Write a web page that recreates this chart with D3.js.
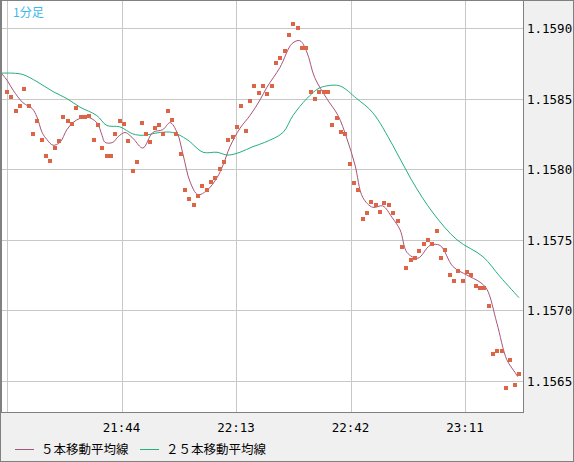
<!DOCTYPE html>
<html>
<head>
<meta charset="utf-8">
<script src="https://cdn.jsdelivr.net/npm/d3@7"></script>
<style>
  body { margin: 0; background: #fff; }
  svg { display: block; }
</style>
</head>
<body>
<svg id="chart" width="574" height="462"></svg>
<script>
// 1分足 closing prices, one per bar
const closes = [
  1.15855, 1.15851, 1.15841, 1.15845, 1.15857, 1.15845, 1.15825, 1.15834, 1.15821, 1.15809,
  1.15806, 1.15815, 1.15820, 1.15837, 1.15834, 1.15832, 1.15843, 1.15837, 1.15837, 1.15838,
  1.15821, 1.15831, 1.15815, 1.15809, 1.15809, 1.15825, 1.15834, 1.15832, 1.15820, 1.15799,
  1.15805, 1.15833, 1.15825, 1.15819, 1.15829, 1.15831, 1.15825, 1.15841, 1.15835, 1.15825,
  1.15811, 1.15785, 1.15779, 1.15775, 1.15781, 1.15788, 1.15785, 1.15791, 1.15794, 1.15800,
  1.15805, 1.15821, 1.15823, 1.15830, 1.15845, 1.15827, 1.15848, 1.15859, 1.15854, 1.15859,
  1.15853, 1.15859, 1.15875, 1.15879, 1.15884, 1.15895, 1.15903, 1.15900, 1.15886, 1.15886,
  1.15855, 1.15850, 1.15855, 1.15855, 1.15855, 1.15831, 1.15836, 1.15826, 1.15825, 1.15804,
  1.15790, 1.15785, 1.15765, 1.15769, 1.15777, 1.15775, 1.15770, 1.15776, 1.15775, 1.15769,
  1.15763, 1.15745, 1.15730, 1.15736, 1.15737, 1.15742, 1.15747, 1.15750, 1.15747, 1.15756,
  1.15737, 1.15743, 1.15725, 1.15721, 1.15728, 1.15721, 1.15727, 1.15725, 1.15717, 1.15716,
  1.15716, 1.15703, 1.15669, 1.15671, 1.15671, 1.15645, 1.15665, 1.15647, 1.15655
];

// moving averages: [bar index, value]
const ma5 = [
  [-1.6, 1.15869], [0, 1.15863], [1.4, 1.15856], [3.7, 1.15847], [5.8, 1.15843], [6.9, 1.15837],
  [8.1, 1.15826], [9.2, 1.15821], [10.6, 1.15817], [12.2, 1.15819], [13.8, 1.15828], [15.2, 1.15833],
  [16.8, 1.15836], [18.4, 1.15837], [20.7, 1.15833], [21.9, 1.15824], [22.6, 1.15819], [24.4, 1.15819],
  [25.6, 1.15823], [27.2, 1.15826], [28.3, 1.15824], [29.3, 1.15821], [31.3, 1.15815], [33.6, 1.15826],
  [35.9, 1.15828], [37.6, 1.15833], [39.2, 1.15826], [40.6, 1.15810], [42.2, 1.15791], [44.0, 1.15782],
  [46.1, 1.15785], [48.4, 1.15794], [49.8, 1.15803], [51.4, 1.15816], [53.7, 1.15829], [56.0, 1.15838],
  [58.3, 1.15849], [59.9, 1.15858], [62.9, 1.15872], [65.7, 1.15889], [67.5, 1.15891], [69.1, 1.15883],
  [70.9, 1.15865], [73.7, 1.15850], [76.3, 1.15838], [78.3, 1.15822], [80.2, 1.15803], [82.0, 1.15780],
  [84.3, 1.15773], [86.6, 1.15774], [88.7, 1.15766], [90.6, 1.15757], [92.2, 1.15741], [94.7, 1.15737],
  [97.5, 1.15746], [99.8, 1.15746], [102.8, 1.15731], [106.0, 1.15725], [109.0, 1.15720], [110.6, 1.15715],
  [112.9, 1.15691], [115.2, 1.15665], [117.1, 1.15656], [117.7, 1.15653]
];
const ma25 = [
  [-1.6, 1.15868], [1.4, 1.15868], [3.7, 1.15867], [6.9, 1.15862], [10.6, 1.15855], [13.8, 1.15850],
  [16.8, 1.15844], [20.7, 1.15838], [23.0, 1.15831], [26.0, 1.15830], [29.0, 1.15825], [31.3, 1.15824],
  [35.3, 1.15826], [38.2, 1.15826], [41.5, 1.15821], [45.2, 1.15812], [48.4, 1.15812], [50.9, 1.15810],
  [53.7, 1.15812], [56.7, 1.15816], [59.4, 1.15819], [63.6, 1.15826], [65.9, 1.15838], [69.1, 1.15850],
  [71.7, 1.15857], [73.7, 1.15859], [76.7, 1.15859], [80.6, 1.15850], [84.3, 1.15840], [88.9, 1.15817],
  [93.3, 1.15792], [98.2, 1.15769], [103.7, 1.15750], [109.7, 1.15738], [113.6, 1.15724], [118.0, 1.15709]
];

const yTicks = [1.1565, 1.1570, 1.1575, 1.1580, 1.1585, 1.1590];
// time grid in minutes after 21:15 (first line unlabeled)
const timeGrid = [0, 29, 58, 87, 116];
const timeLabels = ["", "21:44", "22:13", "22:42", "23:11"];

const W = 574, H = 462;
const plot = { left: 1, top: 1, right: 523, bottom: 412 };

const svg = d3.select("#chart");

svg.append("rect").attr("width", W).attr("height", H).attr("fill", "#f0f0f0");
svg.append("rect")
  .attr("x", plot.left).attr("y", plot.top)
  .attr("width", plot.right - plot.left).attr("height", plot.bottom - plot.top)
  .attr("fill", "#fff");

const x = d3.scaleLinear().domain([0, closes.length - 1]).range([7, 519]);
const xTime = d3.scaleLinear().domain([0, 29]).range([7, 121.5]);
const y = d3.scaleLinear().domain([1.1565, 1.1590]).range([381, 28]);

svg.append("defs").append("clipPath").attr("id", "clip")
  .append("rect")
  .attr("x", plot.left).attr("y", plot.top)
  .attr("width", plot.right - plot.left).attr("height", plot.bottom - plot.top);

// grid
const grid = svg.append("g").attr("stroke", "#c8c8c8").attr("stroke-width", 1);
grid.selectAll("line.h").data(yTicks).join("line")
  .attr("x1", plot.left).attr("x2", plot.right)
  .attr("y1", d => Math.round(y(d)) + 0.5).attr("y2", d => Math.round(y(d)) + 0.5);
grid.selectAll("line.v").data(timeGrid).join("line")
  .attr("y1", plot.top).attr("y2", plot.bottom)
  .attr("x1", d => Math.round(xTime(d)) + 0.5).attr("x2", d => Math.round(xTime(d)) + 0.5);

const body = svg.append("g").attr("clip-path", "url(#clip)");

const line = d3.line().x(d => x(d[0])).y(d => y(d[1])).curve(d3.curveCatmullRom);

body.append("path").datum(ma25)
  .attr("d", line).attr("fill", "none").attr("stroke", "#22b07c").attr("stroke-width", 1);
body.append("path").datum(ma5)
  .attr("d", line).attr("fill", "none").attr("stroke", "#a8547a").attr("stroke-width", 1);

body.selectAll("rect.pt").data(closes).join("rect")
  .attr("x", (d, i) => Math.round(x(i)) - 2)
  .attr("y", d => Math.round(y(d)) - 2)
  .attr("width", 4).attr("height", 4)
  .attr("fill", "#dc6548");

// borders
svg.append("line").attr("x1", plot.right + 0.5).attr("x2", plot.right + 0.5)
  .attr("y1", 0).attr("y2", plot.bottom + 1).attr("stroke", "#808080");
svg.append("line").attr("x1", 0).attr("x2", plot.right + 1)
  .attr("y1", plot.bottom + 0.5).attr("y2", plot.bottom + 0.5).attr("stroke", "#808080");
svg.append("rect").attr("x", 0.5).attr("y", 0.5).attr("width", W - 1).attr("height", H - 1)
  .attr("fill", "none").attr("stroke", "#808080");
svg.append("line").attr("x1", 1.5).attr("x2", 1.5).attr("y1", 0).attr("y2", plot.bottom)
  .attr("stroke", "#808080");

const mono = "'DejaVu Sans Mono', monospace";

// y labels
svg.selectAll("text.yl").data(yTicks).join("text")
  .attr("x", 527).attr("y", d => y(d) + 5)
  .attr("font-family", mono).attr("font-size", 12.5).attr("fill", "#000")
  .text(d => d.toFixed(4));

// x labels
svg.selectAll("text.xl").data(timeGrid).join("text")
  .attr("x", d => xTime(d)).attr("y", 432)
  .attr("text-anchor", "middle")
  .attr("font-family", mono).attr("font-size", 12.5).attr("fill", "#000")
  .text((d, i) => timeLabels[i]);

// title
svg.append("text").attr("x", 13).attr("y", 17)
  .attr("font-family", "'Noto Sans CJK JP', sans-serif").attr("font-size", 12)
  .attr("fill", "#3cb8ee").text("1分足");

// legend
const legend = [
  { label: "５本移動平均線", color: "#a8547a", x: 15 },
  { label: "２５本移動平均線", color: "#22b07c", x: 140 }
];
const lg = svg.selectAll("g.lg").data(legend).join("g")
  .attr("transform", d => `translate(${d.x},449)`);
lg.append("line").attr("x1", 0).attr("x2", 19).attr("y1", 0.5).attr("y2", 0.5)
  .attr("stroke", d => d.color);
lg.append("text").attr("x", 26).attr("y", 5)
  .attr("font-family", "'Noto Sans CJK JP', sans-serif").attr("font-size", 12.5)
  .attr("fill", "#000").text(d => d.label);
</script>
</body>
</html>
